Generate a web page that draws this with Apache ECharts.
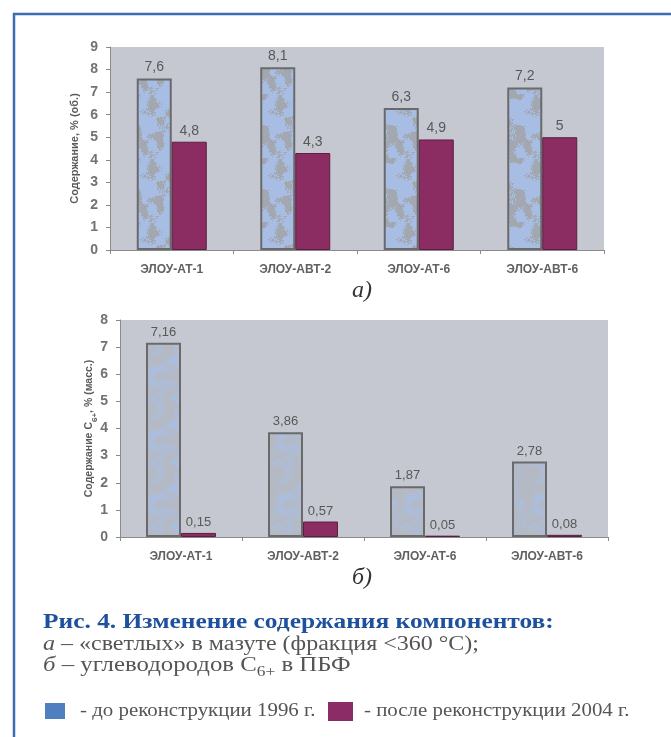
<!DOCTYPE html>
<html>
<head>
<meta charset="utf-8">
<script src="https://cdn.jsdelivr.net/npm/echarts@6/dist/echarts.min.js"></script>
<style>
  html, body { margin: 0; padding: 0; background: #ffffff; }
  #chart { width: 671px; height: 737px; }
</style>
</head>
<body>
<div id="chart"></div>
<script>
// Установки ЭЛОУ
var categories = ['ЭЛОУ-АТ-1', 'ЭЛОУ-АВТ-2', 'ЭЛОУ-АТ-6', 'ЭЛОУ-АВТ-6'];

// а) «светлые» в мазуте, % (об.)
var lightBefore = [7.6, 8.1, 6.3, 7.2];
var lightAfter  = [4.8, 4.3, 4.9, 5.0];

// б) углеводороды C6+ в ПБФ, % (масс.)
var c6Before = [7.16, 3.86, 1.87, 2.78];
var c6After  = [0.15, 0.57, 0.05, 0.08];

var seriesNames = ['до реконструкции 1996 г.', 'после реконструкции 2004 г.'];

var sans = 'Liberation Sans, Arial, sans-serif';
var serif = 'Liberation Serif, Times New Roman, serif';
var plotBg = '#c5c8d0';
var afterFill = '#8b2c63';

// Пятнистая заливка столбцов «до реконструкции» (печатный растр):
// гладкий шум по решётке 8 px плюс мелкое зерно, порог задаёт долю пятен
function hash(i, j, seed) {
  var h = (i * 374761393 + j * 668265263 + seed * 982451653) | 0;
  h = (h ^ (h >>> 13)) * 1274126177 | 0;
  return ((h ^ (h >>> 16)) >>> 0) / 4294967295;
}
function mottled(base, spot, share, seed, grain) {
  var size = 64, cell = 8, n = size / cell;
  var c = document.createElement('canvas');
  c.width = size; c.height = size;
  var g = c.getContext('2d');
  var img = g.createImageData(size, size);
  function rgb(hex) { return [parseInt(hex.substr(1, 2), 16), parseInt(hex.substr(3, 2), 16), parseInt(hex.substr(5, 2), 16)]; }
  var a = rgb(base), b = rgb(spot);
  for (var y = 0; y < size; y++) {
    for (var x = 0; x < size; x++) {
      var gx = x / cell, gy = y / cell;
      var x0 = Math.floor(gx), y0 = Math.floor(gy);
      var fx = gx - x0, fy = gy - y0;
      fx = fx * fx * (3 - 2 * fx); fy = fy * fy * (3 - 2 * fy);
      var v00 = hash(x0 % n, y0 % n, seed), v10 = hash((x0 + 1) % n, y0 % n, seed);
      var v01 = hash(x0 % n, (y0 + 1) % n, seed), v11 = hash((x0 + 1) % n, (y0 + 1) % n, seed);
      var v = (v00 * (1 - fx) + v10 * fx) * (1 - fy) + (v01 * (1 - fx) + v11 * fx) * fy;
      v = v * (1 - grain) + hash(x, y, seed + 7) * grain;
      var col = v < share ? b : a;
      var k = (y * size + x) * 4;
      img.data[k] = col[0]; img.data[k + 1] = col[1]; img.data[k + 2] = col[2]; img.data[k + 3] = 255;
    }
  }
  g.putImageData(img, 0, 0);
  return { image: c, repeat: 'repeat' };
}
var fillTop = mottled('#a7bde3', '#a3a7af', 0.42, 3, 0.2);
var fillBottom = mottled('#b4b9c3', '#a8bee3', 0.4, 11, 0.45);

function commaLabel(p) {
  return String(p.value).replace('.', ',');
}

function yAxisCfg(gridIndex, max, name, nameGap, nameSize) {
  return {
    type: 'value', gridIndex: gridIndex, min: 0, max: max, interval: 1,
    name: name, nameLocation: 'middle', nameGap: nameGap, nameRotate: 90,
    nameMoveOverlap: false,
    nameTextStyle: {
      fontFamily: sans, fontSize: nameSize, fontWeight: 'bold', color: '#5a5a5a',
      rich: {
        sub: { fontFamily: sans, fontSize: 8, fontWeight: 'bold', color: '#5a5a5a', verticalAlign: 'bottom', padding: [0, 0, -4, 0] }
      }
    },
    axisLine: { show: true, lineStyle: { color: '#8a8a8a', width: 1 } },
    axisTick: { show: true, inside: false, length: 4, lineStyle: { color: '#8a8a8a' } },
    axisLabel: { fontFamily: sans, fontSize: 14, fontWeight: 'bold', color: '#727272', margin: 12 },
    splitLine: { show: false }
  };
}

function xAxisCfg(gridIndex) {
  return {
    type: 'category', gridIndex: gridIndex, data: categories,
    axisLine: { show: true, lineStyle: { color: '#8a8a8a', width: 1 } },
    axisTick: { show: true, length: 4, lineStyle: { color: '#8a8a8a' } },
    axisLabel: { fontFamily: sans, fontSize: 12, fontWeight: 'bold', color: '#606060', margin: 14 }
  };
}

function barSeries(name, data, axisIndex, fill, border, borderW, labelSize) {
  return {
    name: name, type: 'bar', data: data,
    xAxisIndex: axisIndex, yAxisIndex: axisIndex,
    barWidth: 35, barGap: '0%',
    itemStyle: { color: fill, borderColor: border, borderWidth: borderW },
    label: {
      show: true, position: 'top', distance: 4, formatter: commaLabel,
      fontFamily: sans, fontSize: labelSize, color: '#585858'
    },
    emphasis: { disabled: true }
  };
}

// Текстовая строка подписи, растянутая по ширине под набор журнала
function captionLine(x, y, text, font, fill, sx, rich) {
  return {
    type: 'text', x: x, y: y, scaleX: sx, scaleY: 1,
    style: { text: text, font: font, fill: fill, textVerticalAlign: 'middle', rich: rich || {} }
  };
}

var chart = echarts.init(document.getElementById('chart'), null, { renderer: 'canvas' });

var richItalic = { i: { fontStyle: 'italic', fontFamily: serif, fontSize: 20, fill: '#555555' } };

chart.setOption({
  backgroundColor: '#ffffff',
  animation: false,
  grid: [
    { left: 110, top: 47, width: 494, height: 203, show: true, backgroundColor: plotBg, borderWidth: 0 },
    { left: 120, top: 320, width: 488, height: 217, show: true, backgroundColor: plotBg, borderWidth: 0 }
  ],
  xAxis: [xAxisCfg(0), xAxisCfg(1)],
  yAxis: [
    yAxisCfg(0, 9, 'Содержание, % (об.)', 30, 11),
    yAxisCfg(1, 8, 'Содержание C{sub|6+}, % (масс.)', 25, 10.5)
  ],
  series: [
    barSeries(seriesNames[0], lightBefore, 0, fillTop, '#6a6a6a', 2, 14),
    barSeries(seriesNames[1], lightAfter, 0, afterFill, '#5b1f42', 1, 14),
    barSeries(seriesNames[0], c6Before, 1, fillBottom, '#6a6a6a', 2, 13),
    barSeries(seriesNames[1], c6After, 1, afterFill, '#5b1f42', 1, 13)
  ],
  graphic: [
    // рамка рисунка
    { type: 'polyline', shape: { points: [[14, 737], [14, 14], [671, 14]] },
      style: { stroke: '#3c6db3', lineWidth: 2.5, fill: null } },
    // подписи панелей
    { type: 'text', x: 352, y: 291,
      style: { text: 'а)', font: 'italic 24px ' + serif, fill: '#333333', textVerticalAlign: 'middle' } },
    { type: 'text', x: 352, y: 578,
      style: { text: 'б)', font: 'italic 24px ' + serif, fill: '#333333', textVerticalAlign: 'middle' } },
    // подрисуночная подпись
    captionLine(43, 623, 'Рис. 4. Изменение содержания компонентов:', 'bold 21px ' + serif, '#1f509c', 1.21),
    captionLine(43, 645, '{i|а} – «светлых» в мазуте (фракция <360 °C);', '20px ' + serif, '#555555', 1.2, richItalic),
    captionLine(43, 666, '{i|б} – углеводородов C{s|6+} в ПБФ', '20px ' + serif, '#555555', 1.24, {
      i: richItalic.i,
      s: { fontFamily: serif, fontSize: 14, fill: '#555555', verticalAlign: 'bottom', padding: [0, 0, -3, 0] }
    }),
    // условные обозначения
    { type: 'rect', shape: { x: 45, y: 703, width: 20, height: 16 }, style: { fill: '#4f7fc0' } },
    captionLine(80, 711, '- ' + seriesNames[0], '18px ' + serif, '#555555', 1.16),
    { type: 'rect', shape: { x: 328, y: 702, width: 25, height: 19 }, style: { fill: '#8b2c66' } },
    captionLine(364, 711, '- ' + seriesNames[1], '18px ' + serif, '#555555', 1.16)
  ]
});
</script>
</body>
</html>
